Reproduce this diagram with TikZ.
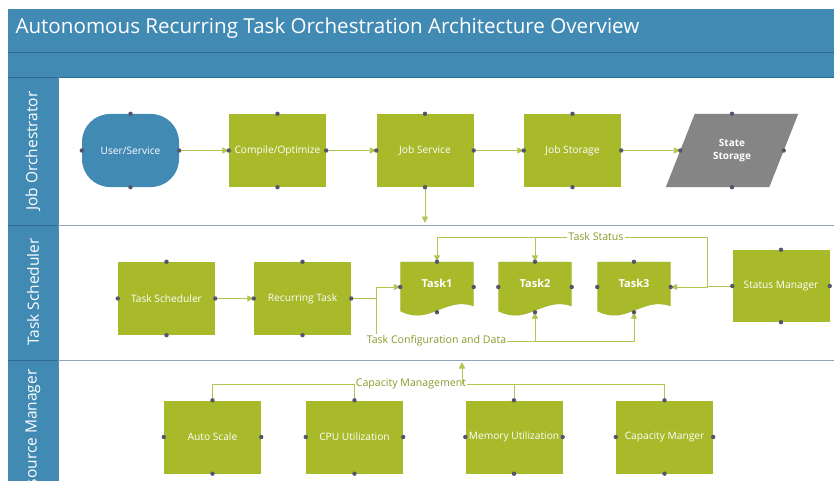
\documentclass[tikz,border=0pt]{standalone}
\usepackage{fontspec}
\setmainfont{Open Sans}
\usetikzlibrary{arrows.meta,calc}
\definecolor{barblue}{HTML}{418AB4}
\definecolor{bardark}{HTML}{2E6A8E}
\definecolor{boxgreen}{HTML}{A8B92A}
\definecolor{linkgreen}{HTML}{B4C451}
\definecolor{textgreen}{HTML}{8A9B2C}
\definecolor{dotgray}{HTML}{55566B}
\definecolor{stategray}{HTML}{858585}
\definecolor{laneline}{HTML}{8EA5B7}
\tikzset{
  boxfont/.style={font=\fontsize{10.2}{12}\selectfont},
  process/.style={boxfont, fill=boxgreen, text=white, minimum width=97pt, minimum height=73pt, inner sep=0pt},
  terminal/.style={process, fill=barblue, rounded corners=28pt},
  storage/.style={minimum width=132pt, minimum height=73pt, inner sep=0pt, text=white, align=center,
    font=\fontsize{10}{13}\selectfont\bfseries},
  taskdoc/.style={minimum width=73pt, minimum height=50pt, inner sep=0pt, text=white,
    font=\fontsize{11}{13}\selectfont\bfseries},
  lanelabel/.style={rotate=90, text=white, font=\fontsize{15.5}{18}\selectfont},
  link/.style={draw=linkgreen, line width=0.9pt},
  flowlabel/.style={fill=white, text=textgreen, inner sep=1pt, font=\fontsize{10.6}{12}\selectfont}
}
\newcommand{\docwave}[1]{%
  (#1.north west) -- (#1.north east) -- ($(#1.south east)+(0,-6)$)
  .. controls ($(#1.south)+(8,-16)$) and ($(#1.south)+(-7,14)$) .. ($(#1.south west)+(0,-1)$) -- cycle}
\newcommand{\slantbox}[1]{%
  ($(#1.north west)+(29,0)$) -- (#1.north east) -- ($(#1.south east)+(-29,0)$) -- (#1.south west) -- cycle}

\begin{document}
\begin{tikzpicture}[x=1pt,y=-1pt,>={Triangle[length=6.5pt,width=6pt]}]
\useasboundingbox (0,0) rectangle (834,481);
\clip (0,0) rectangle (834,481);

% header and lanes
\fill[barblue] (8,9) rectangle (834,77);
\draw[bardark] (8,52) -- (834,52);
\fill[barblue] (8,77) rectangle (58,481);
\fill[white] (58,77) rectangle (834,481);
\draw[bardark] (8,77) -- (834,77);
\draw[bardark!80] (58,77) -- (58,481);
\draw[laneline, line width=1pt] (58,225) -- (834,225);
\draw[laneline, line width=1pt] (58,360) -- (834,360);
\draw[bardark, line width=1pt] (8,225) -- (58,225);
\draw[bardark, line width=1pt] (8,360) -- (58,360);

\node[anchor=base west, text=white, font=\fontsize{20.6}{24}\selectfont] (title) at (12,34)
  {Autonomous Recurring Task Orchestration Architecture Overview};
\node[lanelabel] (lane1) at (33,151) {Job Orchestrator};
\node[lanelabel] (lane2) at (33,292) {Task Scheduler};
\node[lanelabel] (lane3) at (33,437) {Resource Manager};

% job orchestrator
\node[terminal] (user) at (130.5,150.5) {User/Service};
\node[process] (compile) at (277.5,150.5) {Compile/Optimize};
\node[process] (jobsvc) at (425,150.5) {Job Service};
\node[process] (jobstore) at (572.5,150.5) {Job Storage};
\node[storage] (state) at (732,150.5) {};
\fill[black!12, xshift=2pt, yshift=-2pt] \slantbox{state};
\fill[stategray] \slantbox{state};
\node[storage] at (state) {State\\Storage};
\coordinate (stateleft) at ($(state.west)+(14.5,0)$);
\coordinate (stateright) at ($(state.east)+(-14.5,0)$);
\coordinate (jobdown) at (425,223);

% task scheduler
\node[process] (sched) at (166.5,298.5) {Task Scheduler};
\node[process] (recur) at (302.5,298.5) {Recurring Task};
\node[taskdoc] (task1) at (437,287) {};
\node[taskdoc] (task2) at (535,287) {};
\node[taskdoc] (task3) at (634,287) {};
\foreach \t in {task1,task2,task3} {
  \fill[black!12, xshift=2pt, yshift=-2pt] \docwave{\t};
  \fill[boxgreen] \docwave{\t};
}
\node[taskdoc, yshift=4pt] at (task1) {Task1};
\node[taskdoc, yshift=4pt] at (task2) {Task2};
\node[taskdoc, yshift=4pt] at (task3) {Task3};
\node[process, minimum height=72pt] (sm) at (781,286) {Status Manager};
\coordinate (cfgturn) at (376,298.5);
\coordinate (stturn) at (707,286);
\node[flowlabel] (cfg) at (436.5,341) {Task Configuration and Data};
\node[flowlabel] (status) at (596,237) {Task Status};

% resource manager
\node[process] (autosc) at (212.5,437) {Auto Scale};
\node[process] (cpu) at (354.5,437) {CPU Utilization};
\node[process] (mem) at (514,437) {Memory Utilization};
\node[process] (capmgr) at (664.5,437) {Capacity Manger};
\node[flowlabel] (cap) at (411,384) {Capacity Management};
\coordinate (capup) at (462,362);

% connectors
\draw[link,->] (user.east) -- (compile.west);
\draw[link,->] (compile.east) -- (jobsvc.west);
\draw[link,->] (jobsvc.east) -- (jobstore.west);
\draw[link,->] (jobstore.east) -- (stateleft);
\draw[link,->] (jobsvc.south) -- (jobdown);
\draw[link,->] (sched.east) -- (recur.west);
\draw[link] (recur.east) -- (cfgturn);
\draw[link,->] (cfgturn) |- (task1.west);
\draw[link] (cfgturn) -- (cfgturn |- cfg.north);
\draw[link,->] (cfg.east) -| (task3.south);
\draw[link,->] (cfg.east -| task2.south) -- (task2.south);
\draw[link] (sm.west) -- (stturn);
\draw[link,->] (stturn) |- (task3.east);
\draw[link] (stturn) |- (status.east);
\draw[link,->] (status.west) -| (task1.north);
\draw[link,->] (status.west -| task2.north) -- (task2.north);
\draw[link] (cap.west) -| (autosc.north);
\draw[link] (cap.west -| cpu.north) -- (cpu.north);
\draw[link] (cap.east) -| (capmgr.north);
\draw[link] (cap.east -| mem.north) -- (mem.north);
\draw[link,->] (capup |- cap.center) -- (capup);

% connection points
\foreach \n in {user,compile,jobsvc,jobstore,sched,recur,task1,task2,task3,sm,autosc,cpu,mem,capmgr}
  \foreach \a in {north,south,east,west}
    \fill[dotgray] (\n.\a) circle (2.2pt);
\foreach \p in {state.north,state.south,stateleft,stateright}
  \fill[dotgray] (\p) circle (2.2pt);
\end{tikzpicture}
\end{document}
